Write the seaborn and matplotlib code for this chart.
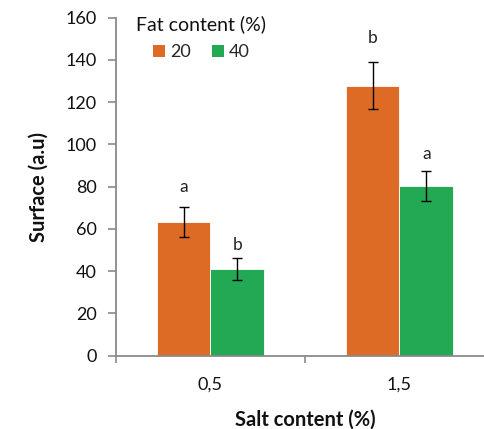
import matplotlib
matplotlib.use("Agg")
import matplotlib.pyplot as plt
import seaborn as sns
import pandas as pd
import numpy as np
from matplotlib.ticker import FixedLocator
from matplotlib.patches import Patch

# Data
salt = ["0,5", "1,5"]
fat = ["20", "40"]
surface_20 = [63.2, 127.8]
surface_40 = [41.0, 80.2]
err_20 = [7.0, 11.1]
err_40 = [5.0, 7.1]
letters_20 = ["a", "b"]
letters_40 = ["b", "a"]

colors = {"20": "#DD6B26", "40": "#23A854"}
# gap (points) between the top of each error bar and its letter
letter_gap = {"20": [11, 14], "40": [6, 9]}

df = pd.DataFrame({
    "Salt": salt * 2,
    "Fat": [fat[0]] * 2 + [fat[1]] * 2,
    "Surface": surface_20 + surface_40,
})

sns.set_style("white")
plt.rcParams["font.family"] = ["Lato", "DejaVu Sans"]

fig = plt.figure(figsize=(4.85, 4.29), dpi=100)
W, H = 485, 429
left, right, top, bottom = 116, 494, 17.5, 355.7
ax = fig.add_axes([left / W, 1 - bottom / H, (right - left) / W, (bottom - top) / H])

sns.barplot(data=df, x="Salt", y="Surface", hue="Fat", order=salt, hue_order=fat,
            palette=colors, saturation=1, width=0.57, errorbar=None, ax=ax,
            edgecolor="white", linewidth=0.6, legend=False)

# Error bars and significance letters
errs = {"20": err_20, "40": err_40}
lets = {"20": letters_20, "40": letters_40}
for cont, f in zip(ax.containers, fat):
    for bar, e, lt, g in zip(cont, errs[f], lets[f], letter_gap[f]):
        cx = bar.get_x() + bar.get_width() / 2
        h = bar.get_height()
        ax.errorbar(cx, h, yerr=e, fmt="none", ecolor="black", elinewidth=1.0,
                    capsize=3.5, capthick=1.0, zorder=5)
        ax.annotate(lt, (cx, h + e), xytext=(0, g), textcoords="offset points",
                    ha="center", va="baseline", fontsize=12.5, color="#222222")

ax.set_ylim(0, 160)
ax.set_yticks(np.arange(0, 161, 20))
ax.set_xlim(-0.5, 1.5)
ax.xaxis.set_minor_locator(FixedLocator([-0.5, 0.5, 1.5]))

for s in ["top", "right"]:
    ax.spines[s].set_visible(False)
for s in ["left", "bottom"]:
    ax.spines[s].set_color("#8a8a8a")
    ax.spines[s].set_linewidth(1.3)

ax.tick_params(axis="y", which="major", length=5.5, width=1.2, color="#8a8a8a",
               labelsize=13, labelcolor="#111111", left=True, pad=8.5)
ax.tick_params(axis="x", which="major", length=0, labelsize=13,
               labelcolor="#111111", pad=15)
ax.tick_params(axis="x", which="minor", length=5, width=1.2, color="#8a8a8a",
               bottom=True)

ax.set_xlabel("Salt content (%)", fontsize=14.5, fontweight="bold", labelpad=12,
              color="#111111")
ax.set_ylabel("Surface (a.u)", fontsize=14.5, fontweight="bold", labelpad=12,
              color="#111111")

# Legend: title and entries placed separately (entries are indented)
fig.text(136 / W, 1 - 24 / H, "Fat content (%)", fontsize=14, color="#111111",
         ha="left", va="center")
handles = [Patch(facecolor=colors[f], edgecolor="none", label=f) for f in fat]
ax.legend(handles=handles, ncol=2, frameon=False, loc="center left",
          bbox_to_anchor=(153 / W, 1 - 52 / H), bbox_transform=fig.transFigure,
          fontsize=13, handlelength=0.66, handleheight=0.66,
          handletextpad=0.3, columnspacing=1.15, borderpad=0, borderaxespad=0)

fig.savefig("out.png", dpi=100)
